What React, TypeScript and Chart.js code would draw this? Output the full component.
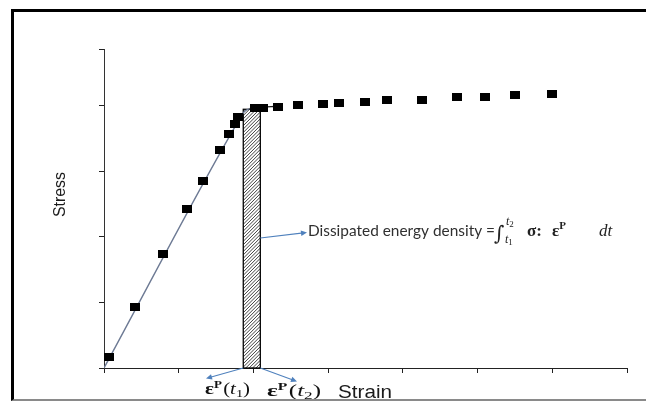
import React, { useEffect, useRef } from "react";
import { Chart, registerables } from "chart.js";

Chart.register(...registerables);

// ---- data (axis units: strain ticks 0..7, stress ticks 0..4) ----
const strainPts = [0.071, 0.419, 0.79, 1.107, 1.321, 1.553, 1.669, 1.754, 1.8, 2.021, 2.133, 2.325, 2.601, 2.928, 3.15, 3.494, 3.784, 4.253, 4.722, 5.1, 5.502, 5.993];
const stressPts = [0.172, 0.925, 1.733, 2.424, 2.855, 3.328, 3.567, 3.72, 3.819, 3.959, 3.968, 3.983, 4.009, 4.024, 4.035, 4.05, 4.085, 4.085, 4.136, 4.136, 4.162, 4.177];
const fitStrain = [0, 1.82, 1.87, 1.95, 2.05, 2.33];
const fitStress = [0, 3.81, 3.9, 3.955, 3.97, 3.99];
const bandStrain = [1.864, 2.092];
const bandStress = 3.944;
const X_MIN = 0;
const X_MAX = 7;
const Y_MIN = 0;
const Y_MAX = 4.863;
const yTitle = "Stress";
const xTitle = "Strain";
const energyText = "Dissipated energy density =";

type Run = { text: string; font: string; dy?: number; gap?: number };

function drawRuns(ctx: CanvasRenderingContext2D, runs: Run[], x: number, base: number, targetW?: number) {
  let total = 0;
  const ws = runs.map((r) => {
    ctx.font = r.font;
    const w = ctx.measureText(r.text).width;
    total += w + (r.gap || 0);
    return w;
  });
  const s = targetW ? targetW / total : 1;
  ctx.save();
  ctx.translate(x, base);
  ctx.scale(s, 1);
  let cx = 0;
  runs.forEach((r, i) => {
    ctx.font = r.font;
    ctx.fillText(r.text, cx, r.dy || 0);
    cx += ws[i] + (r.gap || 0);
  });
  ctx.restore();
}

function arrow(ctx: CanvasRenderingContext2D, x0: number, y0: number, x1: number, y1: number, color: string) {
  const a = Math.atan2(y1 - y0, x1 - x0);
  const L = 6, W = 2.8;
  ctx.save();
  ctx.strokeStyle = color;
  ctx.fillStyle = color;
  ctx.lineWidth = 1.1;
  ctx.beginPath();
  ctx.moveTo(x0, y0);
  ctx.lineTo(x1 - Math.cos(a) * L * 0.6, y1 - Math.sin(a) * L * 0.6);
  ctx.stroke();
  ctx.beginPath();
  ctx.moveTo(x1, y1);
  ctx.lineTo(x1 - Math.cos(a) * L - Math.sin(a) * W, y1 - Math.sin(a) * L + Math.cos(a) * W);
  ctx.lineTo(x1 - Math.cos(a) * L + Math.sin(a) * W, y1 - Math.sin(a) * L - Math.cos(a) * W);
  ctx.closePath();
  ctx.fill();
  ctx.restore();
}

const annotPlugin = {
  id: "annot",
  beforeDatasetsDraw(chart: any) {
    const { ctx, scales } = chart;
    const x = scales.x, y = scales.y;
    const x0 = x.getPixelForValue(bandStrain[0]);
    const x1 = x.getPixelForValue(bandStrain[1]);
    const yt = y.getPixelForValue(bandStress);
    const yb = y.getPixelForValue(0);
    const w = x1 - x0, h = yb - yt;
    ctx.save();
    ctx.fillStyle = "#fff";
    ctx.fillRect(x0, yt, w, h);
    ctx.beginPath();
    ctx.rect(x0, yt, w, h);
    ctx.clip();
    ctx.strokeStyle = "#2a2a2a";
    ctx.lineWidth = 0.9;
    for (let k = -w - 4; k < h + 4; k += 3.4) {
      ctx.beginPath();
      ctx.moveTo(x0, yt + k + w);
      ctx.lineTo(x1, yt + k);
      ctx.stroke();
    }
    ctx.restore();
    ctx.save();
    ctx.strokeStyle = "#000";
    ctx.lineWidth = 1.3;
    ctx.strokeRect(x0, yt, w, h);
    ctx.restore();
  },
  afterDraw(chart: any) {
    const { ctx, scales } = chart;
    const x = scales.x, y = scales.y;
    const x0 = x.getPixelForValue(bandStrain[0]);
    const x1 = x.getPixelForValue(bandStrain[1]);
    const yb = y.getPixelForValue(0);
    const blue = "#4f81bd";
    arrow(ctx, x1, 238, 307, 232.5, blue);
    arrow(ctx, x0, yb, 206, 378.5, blue);
    arrow(ctx, x1, yb, 297, 381.5, blue);

    ctx.save();
    ctx.textAlign = "left";
    ctx.textBaseline = "alphabetic";
    // energy text
    ctx.fillStyle = "#303030";
    drawRuns(ctx, [{ text: energyText, font: "15px Lato" }], 308, 236, 187);
    ctx.fillStyle = "#222";
    ctx.font = "20px 'DejaVu Serif'";
    ctx.fillText("\u222B", 494, 240);
    drawRuns(ctx, [{ text: "t", font: "italic 12px 'Liberation Serif'" }, { text: "2", font: "9px 'Liberation Serif'", dy: 2 }], 506, 225);
    drawRuns(ctx, [{ text: "t", font: "italic 12px 'Liberation Serif'" }, { text: "1", font: "9px 'Liberation Serif'", dy: 2 }], 505, 243);
    drawRuns(ctx, [
      { text: "\u03C3", font: "bold 17px 'Liberation Serif'" },
      { text: ":", font: "bold 17px 'Liberation Serif'", gap: 10 },
      { text: "\u03B5", font: "bold 17px 'Liberation Serif'" },
      { text: "P", font: "bold 11px 'Liberation Serif'", dy: -7 },
    ], 527, 236);
    drawRuns(ctx, [{ text: "d", font: "italic 17px 'Liberation Serif'" }, { text: "t", font: "italic 17px 'Liberation Serif'" }], 599, 236);

    // bottom labels
    ctx.fillStyle = "#111";
    const lbl = (sub: string): Run[] => [
      { text: "\u03B5", font: "bold 16px 'Liberation Serif'" },
      { text: "P", font: "bold 10px 'Liberation Serif'", dy: -6, gap: 1 },
      { text: "(", font: "16px 'Liberation Serif'" },
      { text: "t", font: "italic 16px 'Liberation Serif'" },
      { text: sub, font: "11px 'Liberation Serif'", dy: 3 },
      { text: ")", font: "16px 'Liberation Serif'" },
    ];
    drawRuns(ctx, lbl("1"), 205, 394, 45);
    drawRuns(ctx, lbl("2"), 267, 396, 54);

    // axis titles
    ctx.fillStyle = "#1a1a1a";
    drawRuns(ctx, [{ text: xTitle, font: "19px 'Liberation Sans'" }], 338, 398, 54);
    ctx.save();
    ctx.translate(65, 217);
    ctx.rotate(-Math.PI / 2);
    drawRuns(ctx, [{ text: yTitle, font: "17px 'Liberation Sans'" }], 0, 0, 45);
    ctx.restore();
    ctx.restore();
  },
};

export default function App() {
  const ref = useRef<HTMLCanvasElement>(null);
  useEffect(() => {
    const canvas = ref.current!;
    const sq = document.createElement("canvas");
    sq.width = 10;
    sq.height = 8;
    const sctx = sq.getContext("2d")!;
    sctx.fillStyle = "#000";
    sctx.fillRect(0, 0, 10, 8);
    const lineColor = "#6d7a94";
    const axisGrid = {
      display: true,
      drawOnChartArea: false,
      drawTicks: true,
      tickLength: 5,
      color: "#222",
      lineWidth: 1,
    };
    const chart = new Chart(canvas, {
      type: "scatter",
      data: {
        datasets: [
          {
            type: "line",
            data: fitStrain.map((v, i) => ({ x: v, y: fitStress[i] })),
            borderColor: lineColor,
            borderWidth: 1.4,
            pointRadius: 0,
            cubicInterpolationMode: "monotone",
            segment: {
              borderColor: (c: any) => (c.p0DataIndex >= 3 ? "#1a1a1a" : lineColor),
            },
            order: 2,
          } as any,
          {
            type: "scatter",
            data: strainPts.map((v, i) => ({ x: v, y: stressPts[i] })),
            pointStyle: sq as any,
            pointRadius: 5,
            order: 1,
          },
        ],
      },
      options: {
        responsive: false,
        animation: false,
        devicePixelRatio: 1,
        layout: { padding: { left: 0, top: 49, right: 19, bottom: 0 } },
        plugins: { legend: { display: false }, tooltip: { enabled: false } },
        scales: {
          x: {
            type: "linear",
            min: X_MIN,
            max: X_MAX,
            ticks: { display: false, stepSize: 1 },
            grid: axisGrid,
            border: { display: true, color: "#222", width: 1 },
            afterFit: (s: any) => {
              s.height = 33;
            },
          },
          y: {
            type: "linear",
            min: Y_MIN,
            max: Y_MAX,
            ticks: { display: false, stepSize: 1 },
            grid: axisGrid,
            border: { display: true, color: "#333", width: 1 },
            afterFit: (s: any) => {
              s.width = 104;
            },
          },
        },
      } as any,
      plugins: [annotPlugin],
    });
    return () => chart.destroy();
  }, []);

  return (
    <div style={{ position: "fixed", left: 0, top: 0, width: 646, height: 401, background: "#fff", overflow: "hidden" }}>
      <canvas ref={ref} width={646} height={401} style={{ position: "absolute", left: 0, top: 0, width: 646, height: 401 }} />
      <div
        style={{
          position: "absolute",
          left: 11,
          top: 9,
          width: 700,
          height: 387,
          borderTop: "3px solid #000",
          borderLeft: "3px solid #000",
          borderBottom: "2px solid #8a8a8a",
          pointerEvents: "none",
        }}
      />
    </div>
  );
}
